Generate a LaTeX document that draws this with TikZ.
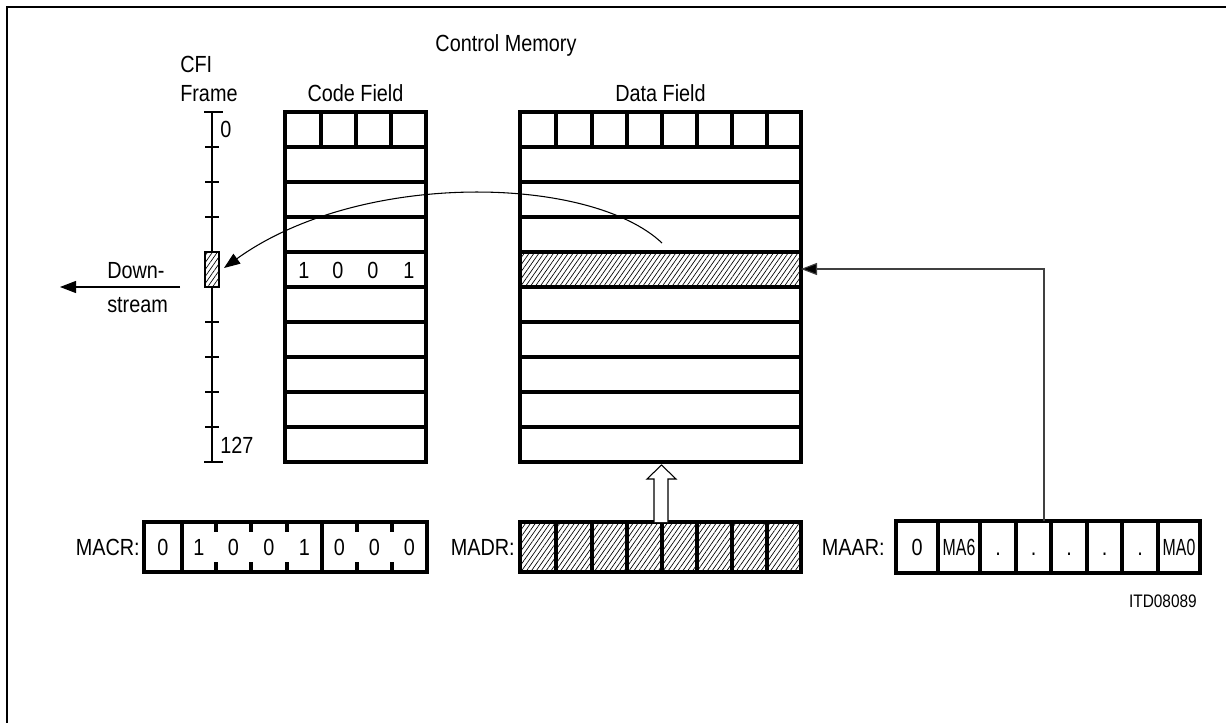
\documentclass[tikz,border=0pt]{standalone}
\usepackage{fontspec}
\usepackage{graphicx}
\setmainfont{Liberation Sans}[FakeStretch=0.85]
\usetikzlibrary{patterns.meta,arrows.meta}
\begin{document}
\begin{tikzpicture}[x=0.75pt,y=-0.75pt,
  thickln/.style={line width=2.5pt},
  thinln/.style={line width=0.8pt},
  lbl/.style={inner sep=0pt, anchor=base, font=\fontsize{17.5}{21}\selectfont},
  small/.style={inner sep=0pt, anchor=base east, font=\fontsize{13.6}{16}\selectfont},
  hatchfill/.style={pattern={Lines[angle=55,distance=3pt,line width=0.5pt]}},
  conn/.style={line width=0.8pt, -{Triangle[length=12pt,width=9pt]}},
]
\useasboundingbox (0,0) rectangle (1226,723);
% outer frame
\draw[line width=1.6pt] (7,740) -- (7,7) -- (1240,7);

% titles
\node[lbl] (ctrlmem) at (506,52) {Control Memory};
\node[lbl, anchor=base west] (cfi) at (180,73) {CFI};
\node[lbl, anchor=base west] (frame) at (180,102) {Frame};
\node[lbl] (codelbl) at (355.5,102) {Code Field};
\node[lbl] (datalbl) at (660.5,102) {Data Field};

% CFI frame axis
\draw[thinln] (212,112) -- (212,462);
\draw[thinln] (204,112) -- (223,112);
\draw[thinln] (204,462) -- (223,462);
\foreach \y in {147,182,217,322,357,392,427} \draw[thinln] (205,\y) -- (219,\y);
\filldraw[thinln, fill=white] (205,252) rectangle (219,287);
\fill[hatchfill] (205,252) rectangle (219,287);
\draw[thinln] (205,252) rectangle (219,287);
\coordinate (cfirect) at (212,269.5);
\coordinate (cfitip) at (224,268);
\node[lbl, anchor=base west] (zero) at (220,138) {0};
\node[lbl, anchor=base west] (last) at (220,453) {127};

% Downstream
\node[lbl, anchor=base west] (down) at (107,278) {Down-};
\node[lbl, anchor=base west] (stream) at (107,312) {stream};
\coordinate (dsstart) at (180,287);
\coordinate (dsend) at (60,287);
\draw[conn] (dsstart) -- (dsend);

% Code field
\draw[thickln] (285,112) rectangle (426,462);
\foreach \y in {147,182,...,427} \draw[thickln] (285,\y) -- (426,\y);
\foreach \x in {321,356,391} \draw[thickln] (\x,112) -- (\x,147);
\foreach \x/\d in {304/1,338/0,373/0,409/1} \node[lbl] at (\x,278) {\d};

% Data field
\fill[hatchfill] (520,252) rectangle (801,287);
\draw[thickln] (520,112) rectangle (801,462);
\foreach \y in {147,182,...,427} \draw[thickln] (520,\y) -- (801,\y);
\foreach \x in {556,592,627,662,697,732,767} \draw[thickln] (\x,112) -- (\x,147);
\coordinate (datarow) at (801,269);
\coordinate (dstart) at (662,243);

% curved arrow from data row to CFI slot
\draw[conn] (dstart) .. controls (590,175) and (360,170) .. (cfitip);

% MACR
\node[lbl, anchor=base east] (macrlbl) at (140,555) {MACR:};
\draw[thickln] (144,522) rectangle (427,572);
\foreach \x in {182,322} \draw[thickln] (\x,522) -- (\x,572);
\foreach \x in {216,251,287,357,392} {\draw[thickln] (\x,522) -- (\x,532); \draw[thickln] (\x,562) -- (\x,572);}
\foreach \x/\d in {163/0,199/1,233.5/0,269/0,304.5/1,339.5/0,374.5/0,409.5/0} \node[lbl] at (\x,555) {\d};
\coordinate (macr) at (285.5,547);

% MADR
\node[lbl, anchor=base east] (madrlbl) at (515,555) {MADR:};
\fill[hatchfill] (520,522) rectangle (801,572);
\draw[thickln] (520,522) rectangle (801,572);
\foreach \x in {556,592,627,662,697,732,767} \draw[thickln] (\x,522) -- (\x,572);
\coordinate (madrtop) at (661,522);

% hollow transfer arrow MADR -> data field
\draw[thinln, fill=white] (654,522) -- (654,479) -- (647,479) -- (661.5,465) -- (676,479) -- (668,479) -- (668,522);

% MAAR
\node[lbl, anchor=base east] (maarlbl) at (885,555) {MAAR:};
\draw[thickln] (896,521) rectangle (1200,573);
\foreach \x in {938,980,1016,1051,1087,1122,1158} \draw[thickln] (\x,521) -- (\x,573);
\node[lbl] at (917,555) {0};
\node[lbl] at (959,555) {\scalebox{0.8}[1]{MA6}};
\foreach \x in {998,1033.5,1069,1104.5,1140} \node[lbl] at (\x,555) {.};
\node[lbl] at (1179,555) {\scalebox{0.8}[1]{MA0}};
\coordinate (maartop) at (1044,521);

% address arrow MAAR -> data row
\draw[line width=0.8pt, draw=black!75, -{Triangle[length=12pt,width=9pt,fill=black]}] (maartop) |- (datarow);

% figure id
\node[small] (itd) at (1197,607) {ITD08089};
\end{tikzpicture}
\end{document}
